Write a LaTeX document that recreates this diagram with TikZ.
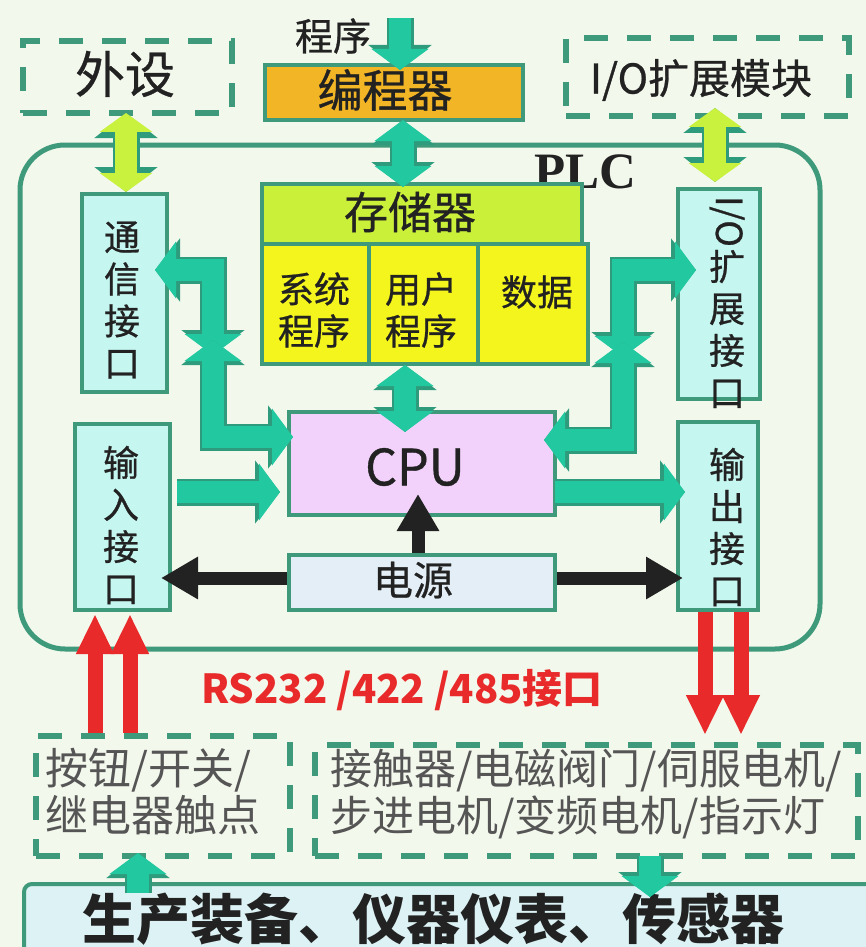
\documentclass[tikz,border=0pt]{standalone}
\usepackage{fontspec}
\usepackage{graphicx}
\usetikzlibrary{arrows.meta,calc}
\newfontfamily\cjk{Noto Sans CJK SC}
\newfontfamily\cjkm[FakeBold=0.7]{Noto Sans CJK SC}
\newfontfamily\plcfont{Liberation Serif}
\definecolor{bgc}{HTML}{F3F8EC}
\definecolor{gline}{HTML}{3E9A7A}
\definecolor{gfill}{HTML}{22C8A0}
\definecolor{gedge}{HTML}{2E9C7C}
\definecolor{limef}{HTML}{C8F23E}
\definecolor{orangef}{HTML}{F2B526}
\definecolor{memf}{HTML}{CBF03A}
\definecolor{yellowf}{HTML}{F5F51E}
\definecolor{cpuf}{HTML}{F2D2FA}
\definecolor{pwrf}{HTML}{E4EEF6}
\definecolor{cyanf}{HTML}{C6F6F0}
\definecolor{botf}{HTML}{DCF2F4}
\definecolor{redc}{HTML}{E82A2A}
\definecolor{txt}{HTML}{222222}
\definecolor{graytxt}{HTML}{555555}
\tikzset{
  box/.style={draw=gline, line width=4pt, anchor=north west, inner sep=0pt},
  dbox/.style={draw=gline, line width=6pt, dash pattern=on 24pt off 19pt, anchor=north west, inner sep=0pt},
  edgepass/.style={draw=gedge, line width=27pt, line join=miter, >={Triangle[width=62pt,length=25pt]}},
  fillpass/.style={draw=gfill, line width=22pt, line join=miter, >={Triangle[width=56pt,length=21pt]}},
  limepass/.style={draw=limef, line width=22pt, line join=miter, >={Triangle[width=52pt,length=19pt]}},
  blackarr/.style={draw=txt, line width=13pt, -{Triangle[width=40pt,length=37pt]}},
  redarr/.style={draw=redc, line width=15pt, -{Triangle[width=35pt,length=40pt]}},
  vtext/.style={font=\cjkm\fontsize{36}{42}\selectfont, text=txt, align=center, inner sep=0pt},
  lbl/.style={text=txt, inner sep=0pt},
}
\newcommand\GArr[3][]{\draw[edgepass,#2,#1] #3; \draw[fillpass,#2,#1] #3;}
\newcommand\LArr[3][]{\draw[edgepass,#2,#1] #3; \draw[limepass,#2,#1] #3;}
\begin{document}
\begin{tikzpicture}[x=1pt,y=-1pt]
\useasboundingbox (0,0) rectangle (866,947);
\fill[bgc] (0,0) rectangle (866,947);

% PLC outer frame
\draw[gline, line width=5pt, rounded corners=45pt] (20,145) rectangle (820,649);
\node[lbl, font=\plcfont\bfseries\fontsize{51}{51}\selectfont] (plc) at (585,172) {PLC};

% top elements
\node[dbox, minimum width=209pt, minimum height=72pt] (ext) at (20,38) {};
\node[lbl, font=\cjkm\fontsize{50}{50}\selectfont] (extt) at (125,74) {外设};
\node[dbox, minimum width=283pt, minimum height=78pt] (iom) at (563,35) {};
\node[lbl, font=\cjkm\fontsize{41}{41}\selectfont] (iomt) at (701,80) {I/O扩展模块};
\node[box, fill=orangef, minimum width=258pt, minimum height=55pt] (prg) at (263,63) {};
\node[lbl, font=\cjkm\fontsize{45}{45}\selectfont] (prgt) at (385,90) {编程器};
\node[lbl, font=\cjkm\fontsize{38}{38}\selectfont] (src) at (333,36) {程序};
\coordinate (srctop) at (400,18);

% memory
\node[box, fill=memf, minimum width=320pt, minimum height=60pt] (mem) at (260,182) {};
\node[lbl, font=\cjkm\fontsize{44}{44}\selectfont] (memt) at (410,212) {存储器};
\node[box, fill=yellowf, minimum width=107pt, minimum height=120pt] (sys) at (260,242) {};
\node[box, fill=yellowf, minimum width=109pt, minimum height=120pt] (usr) at (367,242) {};
\node[box, fill=yellowf, minimum width=110pt, minimum height=120pt] (dat) at (476,242) {};
\node[lbl, font=\cjkm\fontsize{36}{42}\selectfont, align=center] (syst) at (314,310) {系统\\程序};
\node[lbl, font=\cjkm\fontsize{36}{42}\selectfont, align=center] (usrt) at (421,310) {用户\\程序};
\node[lbl, font=\cjkm\fontsize{36}{42}\selectfont] (datt) at (537,292) {数据};

% interface boxes
\node[box, fill=cyanf, minimum width=85pt, minimum height=198pt] (com) at (80,192) {};
\node[vtext] (comt) at (122,300) {通\\信\\接\\口};
\node[box, fill=cyanf, minimum width=82pt, minimum height=210pt] (iox) at (676,187) {};
\node[vtext] (ioxt) at (727,302) {\rotatebox{-90}{I/O}\\[2pt]扩\\展\\接\\口};
\node[box, fill=cyanf, minimum width=95pt, minimum height=186pt] (inp) at (73,422) {};
\node[vtext] (inpt) at (121,525) {输\\入\\接\\口};
\node[box, fill=cyanf, minimum width=80pt, minimum height=188pt] (outp) at (676,420) {};
\node[vtext] (outpt) at (727,527) {输\\出\\接\\口};

% CPU & power
\node[box, fill=cpuf, minimum width=266pt, minimum height=103pt] (cpu) at (287,410) {};
\node[lbl, font=\cjkm\fontsize{50}{50}\selectfont] (cput) at (415,467) {CPU};
\node[box, fill=pwrf, minimum width=266pt, minimum height=55pt] (pwr) at (287,553) {};
\node[lbl, font=\cjkm\fontsize{40}{40}\selectfont] (pwrt) at (413,580) {电源};

% bottom
\node[dbox, minimum width=254pt, minimum height=120pt] (btn) at (33,733) {};
\node[font=\cjk\fontsize{43}{47}\selectfont, text=graytxt, align=left, anchor=west, inner sep=0pt] (btnt) at (45,792) {按钮/开关/\\继电器触点};
\node[dbox, minimum width=543pt, minimum height=111pt] (act) at (312,742) {};
\node[font=\cjk\fontsize{42}{47}\selectfont, text=graytxt, align=left, anchor=west, inner sep=0pt] (actt) at (330,794) {接触器/电磁阀门/伺服电机/\\步进电机/变频电机/指示灯};
\node[draw=gline, line width=4pt, fill=botf, rounded corners=8pt, anchor=north west, minimum width=880pt, minimum height=100pt] (bot) at (22,882) {};
\node[lbl, font=\cjk\bfseries\fontsize{54}{54}\selectfont] (bott) at (433,919) {生产装备、仪器仪表、传感器};
\node[font=\cjk\bfseries\fontsize{40}{40}\selectfont, text=redc, inner sep=0pt] (rs) at (402,690) {RS232 /422 /485接口};

% coordinates
\coordinate (cL1) at (213,270);
\coordinate (cLa) at (213,355);
\coordinate (cLb) at (213,340);
\coordinate (cL2) at (213,437);
\coordinate (cR1) at (623,270);
\coordinate (cRa) at (623,357);
\coordinate (cRb) at (623,342);
\coordinate (cR2) at (623,440);
\coordinate (yIO) at (0,492);
\coordinate (yPw) at (0,578);
\coordinate (xPrg) at (403,0);
\coordinate (xMem) at (405,0);
\coordinate (xExt) at (126,0);
\coordinate (xIom) at (715,0);
\coordinate (xPwr) at (418,0);
\coordinate (xR1) at (95,0);
\coordinate (xR2) at (130,0);
\coordinate (xR3) at (705,0);
\coordinate (xR4) at (741,0);
\coordinate (xUp) at (138,0);
\coordinate (xDn) at (650,0);

% green arrows
\GArr[shorten >=-7pt]{->}{(srctop) -- (srctop |- prg.north)}
\GArr[shorten <=-2pt, shorten >=-5pt]{<->}{(prg.south -| xPrg) -- (mem.north -| xPrg)}
\GArr[shorten <=-1pt, shorten >=-22pt]{<->}{(sys.south -| xMem) -- (cpu.north -| xMem)}
\LArr[shorten <=-3pt, shorten >=0pt]{<->}{(ext.south -| xExt) -- (com.north -| xExt)}
\LArr[shorten <=-11pt, shorten >=5pt]{<->}{(iom.south -| xIom) -- (iox.north -| xIom)}
\GArr[shorten <=-14pt]{<->}{(com.east |- cL1) -- (cL1) -- (cLa)}
\GArr[shorten >=-6pt]{<->}{(cLb) -- (cL2) -- (cpu.west |- cL2)}
\GArr[shorten <=-20pt]{<->}{(iox.west |- cR1) -- (cR1) -- (cRa)}
\GArr[shorten >=-13pt]{<->}{(cRb) -- (cR2) -- (cpu.east |- cR2)}
\GArr[shorten <=5pt, shorten >=7pt]{->}{(inp.east |- yIO) -- (cpu.west |- yIO)}
\GArr[shorten <=-2pt, shorten >=-9pt]{->}{(cpu.east |- yIO) -- (outp.west |- yIO)}
\GArr[shorten <=-11pt, shorten >=-6pt]{->}{(bot.north -| xUp) -- (btn.south -| xUp)}
\GArr[shorten <=-3pt, shorten >=-15pt]{->}{(act.south -| xDn) -- (bot.north -| xDn)}

% black arrows
\draw[blackarr, shorten >=-23pt] (pwr.north -| xPwr) -- (cpu.south -| xPwr);
\draw[blackarr, shorten >=-11pt] (pwr.west |- yPw) -- (inp.east |- yPw);
\draw[blackarr, shorten >=-7pt] (pwr.east |- yPw) -- (outp.west |- yPw);

% red arrows
\draw[redarr, shorten >=2pt] (btn.north -| xR1) -- (inp.south -| xR1);
\draw[redarr, shorten >=2pt] (btn.north -| xR2) -- (inp.south -| xR2);
\draw[redarr, shorten >=7pt] (outp.south -| xR3) -- (act.north -| xR3);
\draw[redarr, shorten >=7pt] (outp.south -| xR4) -- (act.north -| xR4);
\end{tikzpicture}
\end{document}
